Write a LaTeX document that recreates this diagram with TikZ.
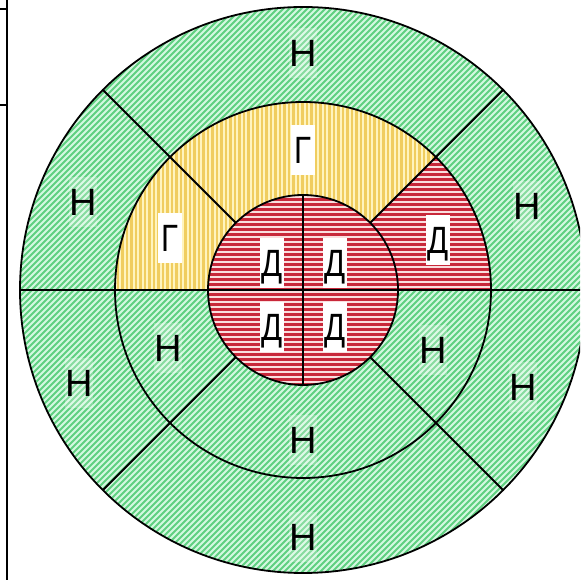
\documentclass[tikz,border=0pt]{standalone}
\usepackage{fontspec}
\setmainfont{Liberation Sans}
\definecolor{greenbg}{RGB}{212,248,224}
\definecolor{greenln}{RGB}{95,208,128}
\definecolor{redbg}{RGB}{250,222,222}
\definecolor{redln}{RGB}{200,40,58}
\definecolor{yellowbg}{RGB}{255,244,190}
\definecolor{yellowln}{RGB}{240,205,95}
\newcommand{\narrow}[1]{\scalebox{0.82}[1]{#1}}
\begin{document}
\begin{tikzpicture}[x=1pt,y=1pt,
  lbl/.style={font=\fontsize{38}{40}\selectfont, text height=27pt, text depth=0pt, inner sep=0pt, minimum width=24pt, minimum height=50pt},
  onwhite/.style={lbl, fill=white},
  ongreen/.style={lbl, fill=white, fill opacity=0.25, text opacity=1},
  border/.style={line width=1.8pt, black},
  tableline/.style={line width=2pt, black}]
\useasboundingbox (0,0) rectangle (580,580);
\clip (0,0) rectangle (580,580);
\fill[white] (0,0) rectangle (580,580);
\coordinate (C) at (303,290);
\def\Ra{283}\def\Rb{188}\def\Rc{95}
% green everywhere
\begin{scope}
  \clip (C) circle[radius=\Ra];
  \fill[greenbg] (0,0) rectangle (580,580);
  \foreach \k in {-600,-594,...,600} \draw[greenln, line width=2pt] (\k,0) -- ++(600,600);
\end{scope}
% yellow sector 45..180 in middle ring
\begin{scope}
  \clip ([shift={(45:\Rb)}]C) arc[start angle=45,end angle=180,radius=\Rb]
     -- ([shift={(180:\Rc)}]C) arc[start angle=180,end angle=45,radius=\Rc] -- cycle;
  \fill[yellowbg] (0,0) rectangle (580,580);
  \foreach \k in {100,104.5,...,520} \draw[yellowln, line width=2.2pt] (\k,0) -- (\k,580);
\end{scope}
% red sector 0..45 in middle ring
\begin{scope}
  \clip ([shift={(0:\Rb)}]C) arc[start angle=0,end angle=45,radius=\Rb]
     -- ([shift={(45:\Rc)}]C) arc[start angle=45,end angle=0,radius=\Rc] -- cycle;
  \fill[redbg] (0,0) rectangle (580,580);
  \foreach \k in {0,5,...,580} \draw[redln, line width=3pt] (0,\k) -- (580,\k);
\end{scope}
% red inner disc
\begin{scope}
  \clip (C) circle[radius=\Rc];
  \fill[redbg] (0,0) rectangle (580,580);
  \foreach \k in {0,5,...,580} \draw[redln, line width=3pt] (0,\k) -- (580,\k);
\end{scope}
% borders
\draw[border] (C) circle[radius=\Ra];
\draw[border] (C) circle[radius=\Rb];
\draw[border] (C) circle[radius=\Rc];
\draw[border] ([shift={(180:\Ra)}]C) -- ([shift={(0:\Ra)}]C);
\draw[border] ([shift={(90:\Rc)}]C) -- ([shift={(270:\Rc)}]C);
\foreach \a in {45,135,225,315}
  \draw[border] ([shift={(\a:\Rc)}]C) -- ([shift={(\a:\Ra)}]C);
% table edge at left
\draw[tableline] (7,580) -- (7,0);
\draw[tableline] (0,570.5) -- (7,570.5);
\draw[tableline] (0,475) -- (7,475);
% labels outer ring
\node[ongreen] (o1) at (303,527) {Н};
\node[ongreen] (o2) at (83,378) {Н};
\node[ongreen] (o3) at (527,374) {Н};
\node[ongreen] (o4) at (79,197) {Н};
\node[ongreen] (o5) at (523,193) {Н};
\node[ongreen] (o6) at (303,43) {Н};
% labels middle ring
\node[onwhite] (m1) at (303,430) {\narrow{Г}};
\node[onwhite] (m2) at (170,342) {\narrow{Г}};
\node[onwhite] (m3) at (438,340) {\narrow{Д}};
\node[ongreen] (m4) at (168,232) {Н};
\node[ongreen] (m5) at (303,140) {Н};
\node[ongreen] (m6) at (433,230) {Н};
% labels inner disc
\node[onwhite] (i1) at (272,317) {\narrow{Д}};
\node[onwhite] (i2) at (335,317) {\narrow{Д}};
\node[onwhite] (i3) at (272,253) {\narrow{Д}};
\node[onwhite] (i4) at (335,253) {\narrow{Д}};
\end{tikzpicture}
\end{document}
